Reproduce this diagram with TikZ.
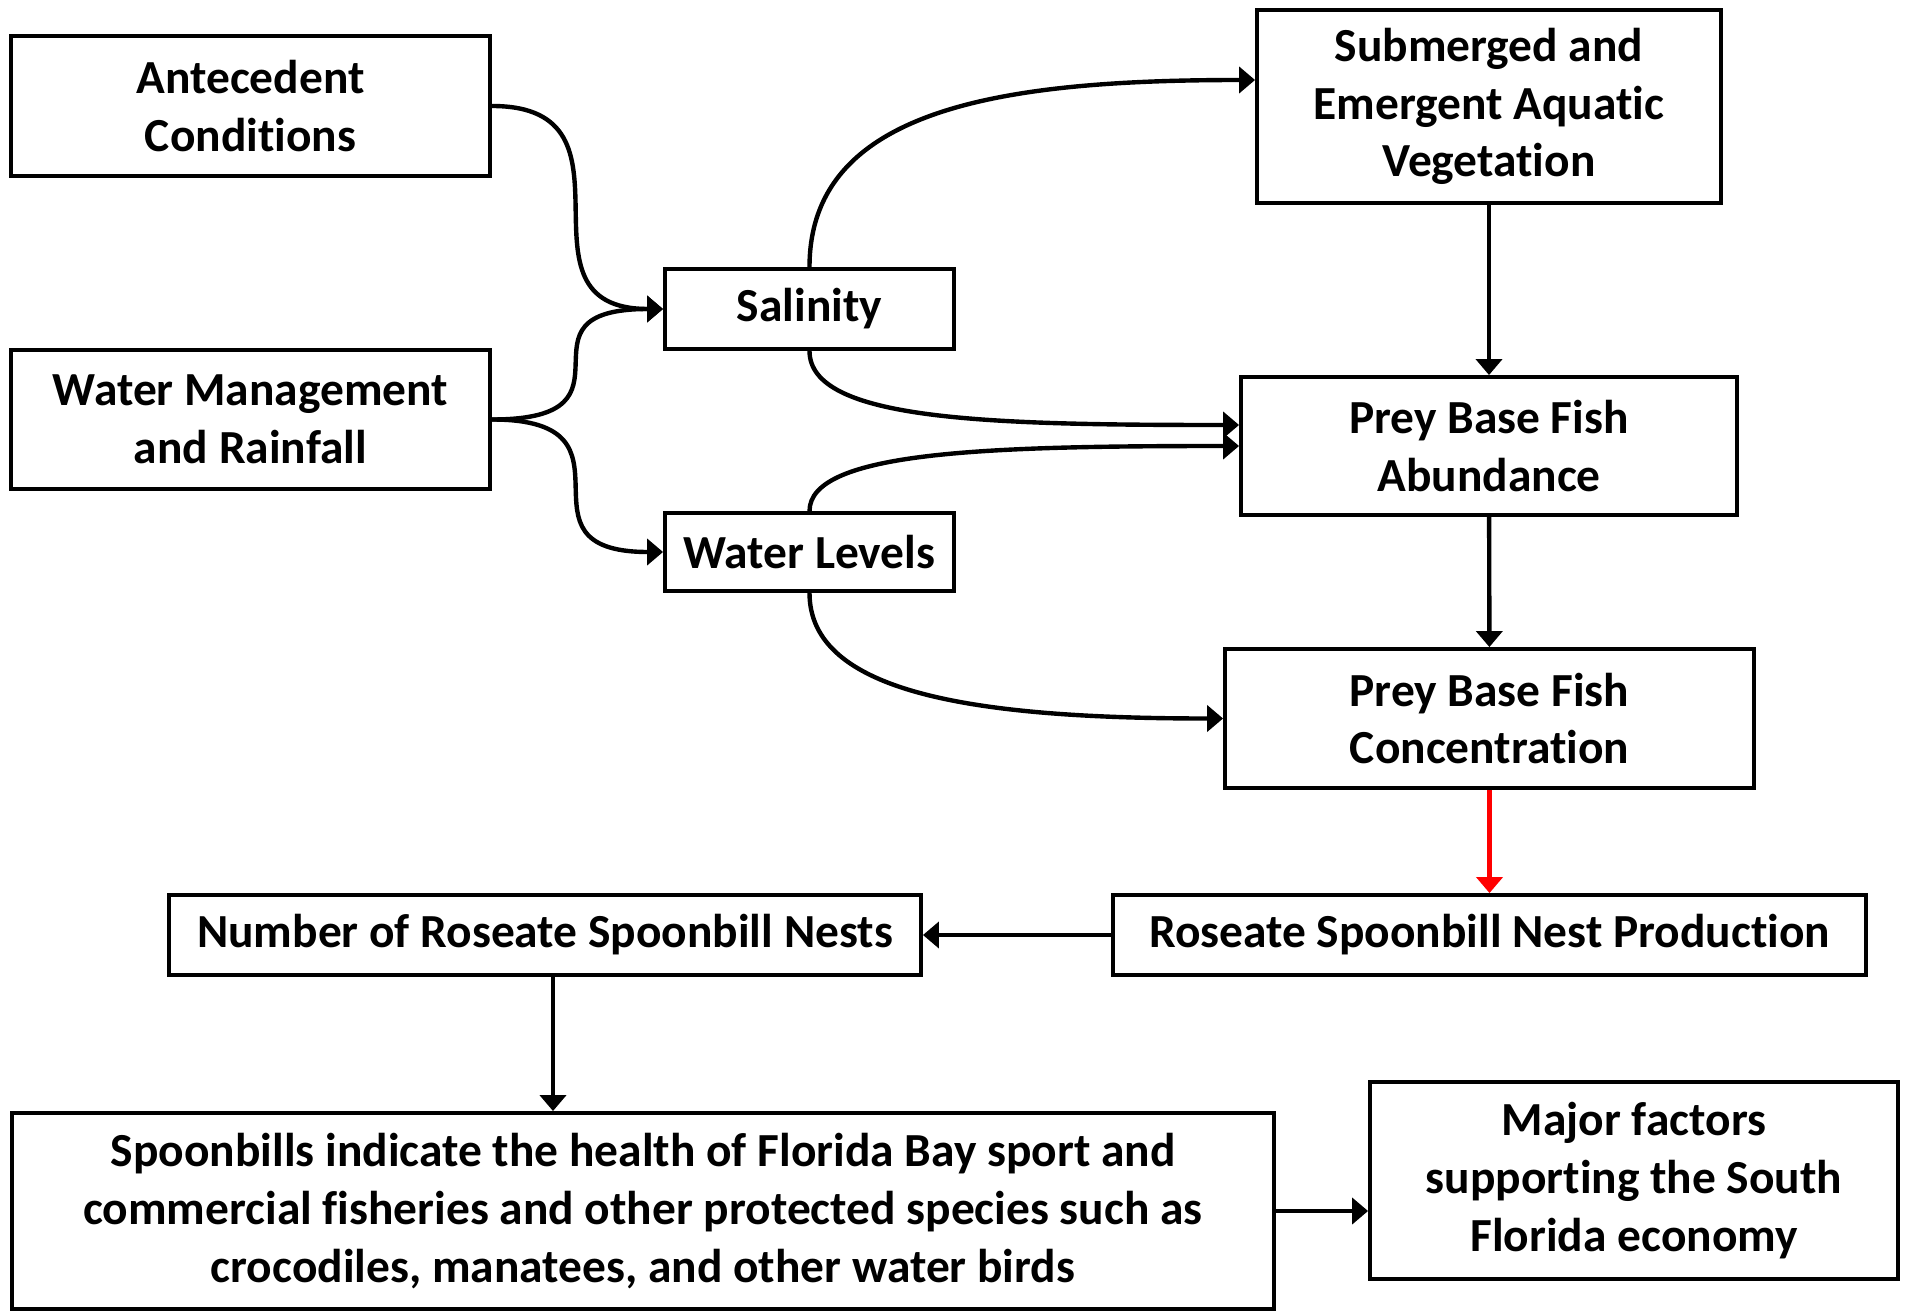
\documentclass[tikz,border=0pt]{standalone}
\usepackage{fontspec}
\setmainfont{Carlito}[Ligatures=NoCommon]
\usepackage{xcolor}
\usetikzlibrary{arrows.meta,positioning,calc}
\definecolor{arrowred}{RGB}{255,0,0}

\begin{document}
\begin{tikzpicture}[
    block/.style={rectangle, draw=black, line width=1.1pt, fill=white,
        align=center, inner sep=0pt,
        font=\fontsize{13.5}{16.4}\selectfont\bfseries},
    arr/.style={-{Triangle[length=1.6mm, width=2.6mm]}, line width=1.25pt},
    redarr/.style={arr, arrowred}
]
    \useasboundingbox (0,0) rectangle (19.06,-13.11);

    % Drivers
    \node[block, minimum width=4.79cm, minimum height=1.40cm] (ante) at (2.505,-1.06) {Antecedent\\Conditions};
    \node[block, minimum width=4.79cm, minimum height=1.39cm] (wm) at (2.505,-4.195) {Water Management\\and Rainfall};

    % Stressors
    \node[block, minimum width=2.89cm, minimum height=0.80cm] (sal) at (8.095,-3.09) {Salinity};
    \node[block, minimum width=2.89cm, minimum height=0.78cm] (wl) at (8.095,-5.52) {Water Levels};

    % Ecological effects
    \node[block, minimum width=4.64cm, minimum height=1.93cm] (sav) at (14.89,-1.065) {\raisebox{-0.5ex}{}Submerged and\\Emergent Aquatic\\Vegetation};
    \node[block, minimum width=4.96cm, minimum height=1.38cm] (abund) at (14.89,-4.46) {Prey Base Fish\\Abundance};
    \node[block, minimum width=5.29cm, minimum height=1.39cm] (conc) at (14.895,-7.185) {Prey Base Fish\\Concentration};

    % Spoonbill response
    \node[block, minimum width=7.53cm, minimum height=0.80cm] (prod) at (14.895,-9.35) {Roseate Spoonbill Nest Production};
    \node[block, minimum width=7.52cm, minimum height=0.80cm] (nests) at (5.45,-9.35) {Number of Roseate Spoonbill Nests};

    % Societal value
    \node[block, minimum width=12.62cm, minimum height=1.96cm] (health) at (6.43,-12.11) {Spoonbills indicate the health of Florida Bay sport and\\commercial fisheries and other protected species such as\\crocodiles, manatees, and other water birds};
    \node[block, minimum width=5.28cm, minimum height=1.97cm] (econ) at (16.34,-11.805) {Major factors\\supporting the South\\Florida economy};

    % Curved links on the left
    \draw[arr] (ante.east) to[out=0, in=180, distance=1.6cm] (sal.west);
    \draw[arr] (wm.east) to[out=0, in=180, distance=1.6cm] (sal.west);
    \draw[arr] (wm.east) to[out=0, in=180, distance=1.6cm] (wl.west);

    % Curved links to the right
    \draw[arr] (sal.north) to[out=90, in=180, out distance=1.6cm, in distance=2.5cm] (sav.west |- 0,-0.80);
    \draw[arr] (sal.south) to[out=-90, in=180, out distance=0.7cm, in distance=2.5cm] (abund.west |- 0,-4.25);
    \draw[arr] (wl.north) to[out=90, in=180, out distance=0.6cm, in distance=2.5cm] (abund.west);
    \draw[arr] (wl.south) to[out=-90, in=180, out distance=1.0cm, in distance=2.5cm] (conc.west);

    % Straight links
    \draw[arr] (sav) -- (abund);
    \draw[arr] (abund) -- (conc);
    \draw[redarr] (conc) -- (prod);
    \draw[arr] (prod) -- (nests);
    \draw[arr] ([xshift=0.08cm]nests.south) -- ([xshift=0.08cm]nests.south |- health.north);
    \draw[arr] (health.east) -- (health.east -| econ.west);
\end{tikzpicture}
\end{document}
